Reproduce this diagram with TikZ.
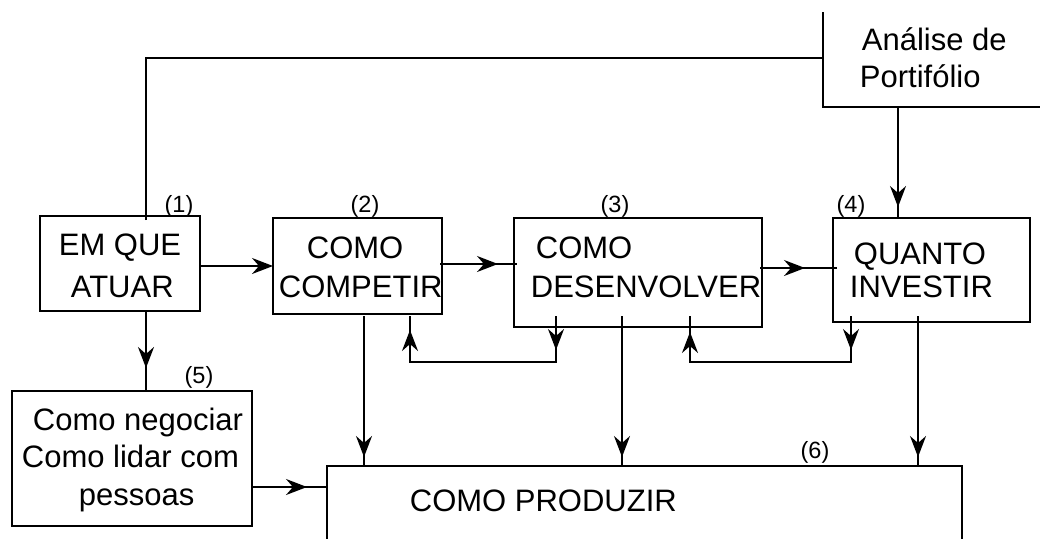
\documentclass[tikz,border=0pt]{standalone}
\usepackage{fontspec}
\setmainfont{Liberation Sans}
\usetikzlibrary{arrows.meta,decorations.markings}
\begin{document}
\begin{tikzpicture}[x=1pt,y=-1pt,line width=1.8pt,
  box/.style={draw,line width=1.8pt,inner sep=0pt,outer sep=0pt,anchor=north west},
  txt/.style={inner sep=0pt,anchor=base west,font=\fontsize{31}{37}\selectfont},
  num/.style={inner sep=0pt,anchor=base,font=\fontsize{23.5}{27}\selectfont},
  tip/.style={-{Stealth[length=21pt,width=16pt,inset=7pt]}},
  midtip/.style={postaction={decorate},decoration={markings,
     mark=at position #1 with {\arrow{Stealth[length=21pt,width=16pt,inset=7pt]}}}},
  twotip/.style 2 args={postaction={decorate},decoration={markings,
     mark=at position #1 with {\arrow{Stealth[length=21pt,width=16pt,inset=7pt]}},
     mark=at position #2 with {\arrow{Stealth[length=21pt,width=16pt,inset=7pt]}}}}]
\useasboundingbox (0,0) rectangle (1040,538);
\begin{scope}
\clip (0,12) rectangle (1040,538);
% boxes
\node[box,minimum width=160pt,minimum height=95pt] (b1) at (40,216) {};
\node[box,minimum width=169pt,minimum height=96pt] (b2) at (273,218) {};
\node[box,minimum width=248pt,minimum height=109pt] (b3) at (514,218) {};
\node[box,minimum width=197pt,minimum height=104pt] (b4) at (833,218) {};
\node[box,minimum width=240pt,minimum height=135pt] (b5) at (12,391) {};
\node[box,minimum width=635pt,minimum height=110pt] (b6) at (327,466) {};
\node[box,minimum width=260pt,minimum height=137pt] (ap) at (823,-30) {};
% texts
\node[txt] (ta1) at (58,255) {EM QUE};
\node[txt] (ta2) at (70,297) {ATUAR};
\node[txt] (tb1) at (306,258) {COMO};
\node[txt] (tb2) at (278,297) {COMPETIR};
\node[txt] (tc1) at (535,258) {COMO};
\node[txt] (tc2) at (530,297) {DESENVOLVER};
\node[txt] (td1) at (853,264) {QUANTO};
\node[txt] (td2) at (849,297) {INVESTIR};
\node[txt] (te1) at (32,430) {Como negociar};
\node[txt] (te2) at (21,467) {Como lidar com};
\node[txt] (te3) at (78,505) {pessoas};
\node[txt] (tf) at (409,511) {COMO PRODUZIR};
\node[txt] (tg1) at (861,50) {Análise de};
\node[txt] (tg2) at (859,87) {Portifólio};
\node[num] (n1) at (179,212) {(1)};
\node[num] (n2) at (365,212) {(2)};
\node[num] (n3) at (615,212) {(3)};
\node[num] (n4) at (851,212) {(4)};
\node[num] (n5) at (199,383) {(5)};
\node[num] (n6) at (815,458) {(6)};
% helper coordinates
\coordinate (xa) at (146,0);
\coordinate (xb) at (364,0);
\coordinate (xc) at (622,0);
\coordinate (xd) at (918,0);
\coordinate (xe) at (898,0);
\coordinate (ytop) at (0,58);
\coordinate (ylow) at (0,316);
\coordinate (yloop) at (0,362);
\coordinate (l1) at (556,316);
\coordinate (l2) at (410,316);
\coordinate (l3) at (851,316);
\coordinate (l4) at (690,316);
% connectors
\draw (146,220) -- (xa |- ytop) -- (ap.west |- ytop);
\draw[tip] (b1.east |- 0,266) -- (b2.west |- 0,266);
\draw[midtip=58pt] (440,264) -- (b3.west |- 0,264) -- ++(3,0);
\draw[midtip=45pt] (760,268) -- (b4.west |- 0,268) -- ++(4,0);
\draw[midtip=57pt] (b1.south -| xa) -- (b5.north -| xa);
\draw[midtip=100pt] (ap.south -| xe) -- (b4.north -| xe) -- ++(0,1);
\draw[midtip=141pt] (xb |- ylow) -- (b6.north -| xb);
\draw[midtip=141pt] (xc |- ylow) -- (b6.north -| xc);
\draw[midtip=141pt] (xd |- ylow) -- (b6.north -| xd);
\draw[midtip=55pt] (b5.east |- 0,487) -- (b6.west |- 0,487);
\draw[twotip={34pt}{224pt}] (l1) -- (l1 |- yloop) -- (l2 |- yloop) -- (l2);
\draw[twotip={34pt}{237pt}] (l3) -- (l3 |- yloop) -- (l4 |- yloop) -- (l4);
\end{scope}
\end{tikzpicture}
\end{document}
